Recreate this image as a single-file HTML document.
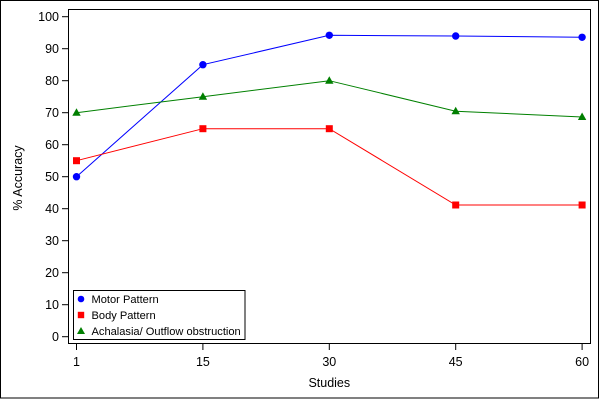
<!DOCTYPE html>
<html><head><meta charset="utf-8"><style>
html,body{margin:0;padding:0;background:#fff;}
svg{display:block;font-family:"Liberation Sans",Arial,sans-serif;}
</style></head><body>
<svg width="600" height="400" viewBox="0 0 600 400" xmlns="http://www.w3.org/2000/svg">
<rect x="0" y="0" width="600" height="400" fill="#fff"/>
<rect x="0.5" y="0.5" width="598" height="397.5" fill="none" stroke="#000" stroke-width="1"/>
<rect x="68.5" y="9.5" width="522" height="334" fill="#fff" stroke="#000" stroke-width="1"/>
<!-- y ticks -->
<g stroke="#000" stroke-width="1">
<line x1="62" y1="16.7" x2="68.5" y2="16.7"/>
<line x1="62" y1="48.7" x2="68.5" y2="48.7"/>
<line x1="62" y1="80.7" x2="68.5" y2="80.7"/>
<line x1="62" y1="112.7" x2="68.5" y2="112.7"/>
<line x1="62" y1="144.7" x2="68.5" y2="144.7"/>
<line x1="62" y1="176.7" x2="68.5" y2="176.7"/>
<line x1="62" y1="208.7" x2="68.5" y2="208.7"/>
<line x1="62" y1="240.7" x2="68.5" y2="240.7"/>
<line x1="62" y1="272.7" x2="68.5" y2="272.7"/>
<line x1="62" y1="304.7" x2="68.5" y2="304.7"/>
<line x1="62" y1="336.7" x2="68.5" y2="336.7"/>
<line x1="76.5" y1="343.5" x2="76.5" y2="350"/>
<line x1="202.9" y1="343.5" x2="202.9" y2="350"/>
<line x1="329.3" y1="343.5" x2="329.3" y2="350"/>
<line x1="455.7" y1="343.5" x2="455.7" y2="350"/>
<line x1="582.1" y1="343.5" x2="582.1" y2="350"/>
</g>
<g font-size="12.5" fill="#000" text-anchor="end">
<text x="59" y="21">100</text>
<text x="59" y="53">90</text>
<text x="59" y="85">80</text>
<text x="59" y="117">70</text>
<text x="59" y="149">60</text>
<text x="59" y="181">50</text>
<text x="59" y="213">40</text>
<text x="59" y="245">30</text>
<text x="59" y="277">20</text>
<text x="59" y="309">10</text>
<text x="59" y="341">0</text>
</g>
<g font-size="12.5" fill="#000" text-anchor="middle">
<text x="76.5" y="366">1</text>
<text x="202.9" y="366">15</text>
<text x="329.3" y="366">30</text>
<text x="455.7" y="366">45</text>
<text x="582.1" y="366">60</text>
<text x="329.3" y="387">Studies</text>
<text x="0" y="0" transform="translate(22,178) rotate(-90)">% Accuracy</text>
</g>
<!-- series -->
<polyline fill="none" stroke="#0000ff" stroke-width="1" points="76.5,176.7 202.9,64.7 329.3,35.3 455.7,36.0 582.1,37.3"/>
<polyline fill="none" stroke="#ff0000" stroke-width="1" points="76.5,160.7 202.9,128.7 329.3,128.7 455.7,205.0 582.1,205.0"/>
<polyline fill="none" stroke="#008000" stroke-width="1" points="76.5,112.7 202.9,96.7 329.3,80.7 455.7,111.2 582.1,117.0"/>
<g fill="#0000ff">
<circle cx="76.5" cy="176.7" r="3.7"/>
<circle cx="202.9" cy="64.7" r="3.7"/>
<circle cx="329.3" cy="35.3" r="3.7"/>
<circle cx="455.7" cy="36.0" r="3.7"/>
<circle cx="582.1" cy="37.3" r="3.7"/>
</g>
<g fill="#ff0000">
<rect x="73" y="157.2" width="7" height="7"/>
<rect x="199.4" y="125.2" width="7" height="7"/>
<rect x="325.8" y="125.2" width="7" height="7"/>
<rect x="452.2" y="201.5" width="7" height="7"/>
<rect x="578.6" y="201.5" width="7" height="7"/>
</g>
<g fill="#007f00">
<polygon points="76.5,108.2 72.3,115.7 80.7,115.7"/>
<polygon points="202.9,92.2 198.7,99.7 207.1,99.7"/>
<polygon points="329.3,76.2 325.1,83.7 333.5,83.7"/>
<polygon points="455.7,106.7 451.5,114.2 459.9,114.2"/>
<polygon points="582.1,112.5 577.9,120.0 586.3,120.0"/>
</g>
<!-- legend -->
<rect x="73.5" y="290.5" width="171.5" height="49" fill="#fff" stroke="#000" stroke-width="1"/>
<circle cx="81" cy="299" r="3.3" fill="#0000ff"/>
<rect x="77.8" y="311.8" width="6.4" height="6.4" fill="#ff0000"/>
<polygon points="81,327 77,334 85,334" fill="#007f00"/>
<g font-size="11.1" fill="#000">
<text x="91.5" y="303">Motor Pattern</text>
<text x="91.5" y="319">Body Pattern</text>
<text x="91.5" y="335">Achalasia/ Outflow obstruction</text>
</g>
</svg>
</body></html>
